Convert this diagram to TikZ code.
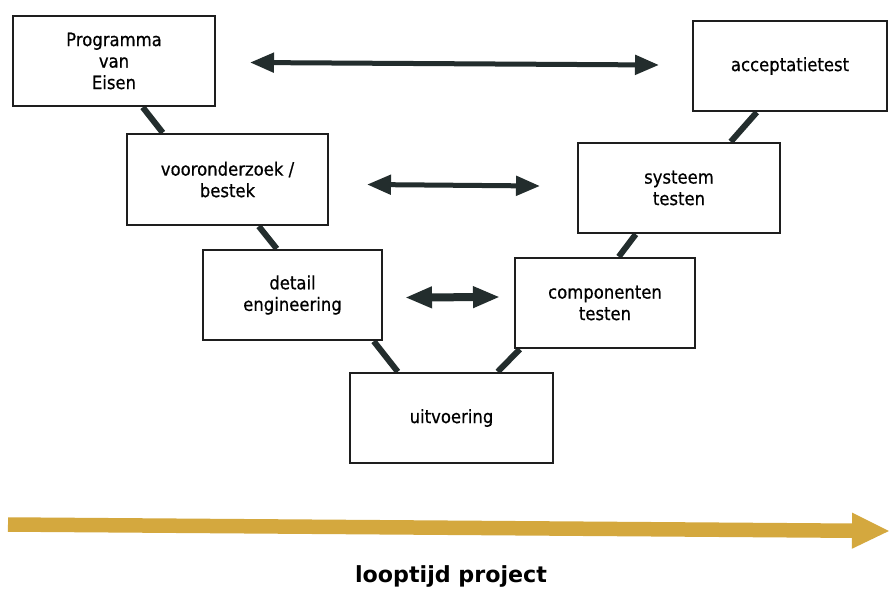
\documentclass[tikz,border=0pt]{standalone}
\usepackage{fontspec}
\setmainfont{DejaVu Sans}[FakeStretch=0.9,FakeBold=0.6]
\newfontfamily\lblfont{DejaVu Sans}
\usetikzlibrary{arrows.meta,backgrounds}
\definecolor{darkarrow}{RGB}{35,45,45}
\definecolor{boxline}{RGB}{30,30,30}
\definecolor{goldarrow}{RGB}{212,168,62}
\tikzset{
  box/.style={draw=boxline, line width=2.5pt, fill=white, rectangle, align=center,
    inner sep=0pt, font=\fontsize{18.3}{21.5}\selectfont},
  conn/.style={draw=darkarrow, line width=6pt},
  darr/.style={draw=darkarrow, fill=darkarrow, line width=5pt,
    {Triangle[length=24pt,width=19pt]}-{Triangle[length=24pt,width=19pt]}},
  goldarr/.style={draw=goldarrow, line width=14.5pt, -{Triangle[length=38pt,width=33pt,fill=goldarrow]}}
}
\begin{document}
\begin{tikzpicture}[x=1pt,y=-1pt]
\useasboundingbox (0,0) rectangle (890,589);
% boxes
\node[box, minimum width=202pt, minimum height=90pt] (pve) at (114,61) {Programma\\van\\Eisen};
\node[box, minimum width=201pt, minimum height=91pt] (voor) at (227.5,179.5) {vooronderzoek /\\bestek};
\node[box, minimum width=179pt, minimum height=90pt] (det) at (292.5,295) {detail\\engineering};
\node[box, minimum width=203pt, minimum height=90pt] (uit) at (451.5,418) {uitvoering};
\node[box, minimum width=180pt, minimum height=90pt] (comp) at (605,303) {componenten\\testen};
\node[box, minimum width=202pt, minimum height=90pt] (sys) at (679,188) {systeem\\testen};
\node[box, minimum width=194pt, minimum height=90pt] (acc) at (790,66) {acceptatietest};
% connectors
\begin{scope}[on background layer]
\fill[white] (0,0) rectangle (890,589);
\draw[conn] ([xshift=131pt]pve.south west) -- ([xshift=37pt]voor.north west);
\draw[conn] ([xshift=133pt]voor.south west) -- ([xshift=75pt]det.north west);
\draw[conn] ([xshift=172pt]det.south west) -- ([xshift=49pt]uit.north west);
\draw[conn] ([xshift=149pt]uit.north west) -- ([xshift=6pt]comp.south west);
\draw[conn] ([xshift=105pt]comp.north west) -- ([xshift=59pt]sys.south west);
\draw[conn] ([xshift=154pt]sys.north west) -- ([xshift=65pt]acc.south west);
\end{scope}
% double arrows
\coordinate (a1l) at (250,62.5);
\coordinate (a1r) at (659,65);
\coordinate (a2l) at (367,184.5);
\coordinate (a2r) at (540,186);
\coordinate (a3l) at (405,297.5);
\coordinate (a3r) at (500,297);
\draw[darr] (a1l) -- (a1r);
\draw[darr] (a2l) -- (a2r);
\draw[darr, line width=8pt, {Triangle[length=27pt,width=20pt]}-{Triangle[length=27pt,width=20pt]}] (a3l) -- (a3r);
% time arrow
\coordinate (tl) at (8,524.5);
\coordinate (tr) at (890,531);
\draw[goldarr] (tl) -- (tr);
\node[anchor=base, font=\lblfont\bfseries\fontsize{22.2}{28}\selectfont] (lbl) at (451,582) {looptijd project};
\end{tikzpicture}
\end{document}
